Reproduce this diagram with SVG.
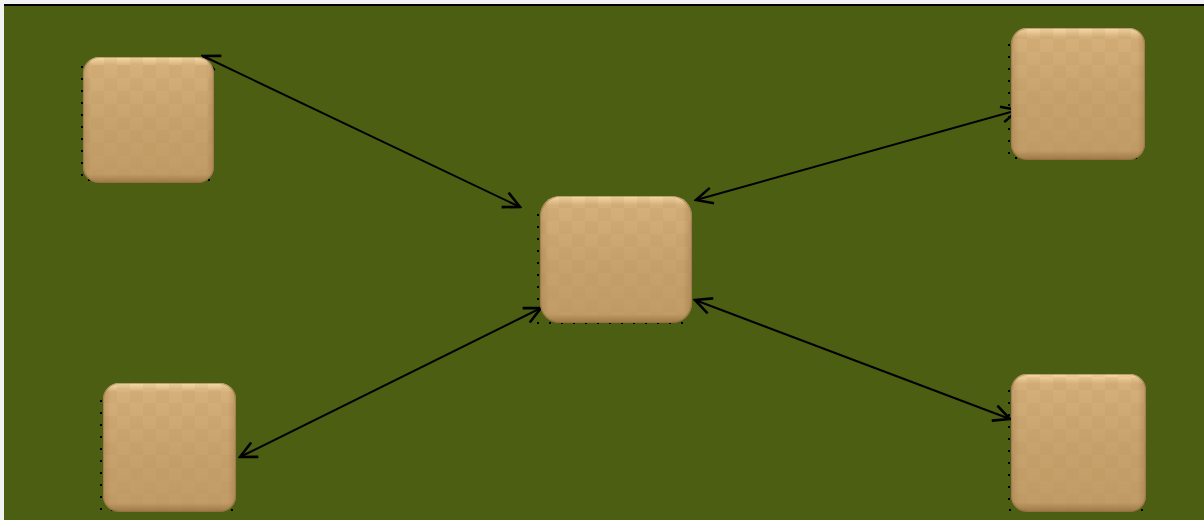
<svg xmlns="http://www.w3.org/2000/svg" width="1204" height="520" viewBox="0 0 1204 520">
  <defs>
    <style>
      .edge { fill: none; stroke: #000; stroke-width: 2; marker-start: url(#head); marker-end: url(#head); }
      .body { fill: url(#tan); }
      .tex { fill: url(#checker); }
      .shade { fill: url(#bevel); }
      .rim { fill: none; stroke: #8c6a3c; stroke-opacity: 0.5; stroke-width: 1.2; }
      .dots { fill: none; stroke: #000; stroke-width: 2; stroke-dasharray: 2 10; }
    </style>
    <marker id="head" viewBox="0 0 20 20" refX="18" refY="10" markerWidth="20" markerHeight="20" markerUnits="userSpaceOnUse" orient="auto-start-reverse">
      <path d="M1.5,2 L18,10 L1.5,18" fill="none" stroke="#000" stroke-width="2.6" stroke-linejoin="miter"/>
    </marker>
    <linearGradient id="tan" x1="0" y1="0" x2="0" y2="1">
      <stop offset="0" stop-color="#f6dba8"/>
      <stop offset="0.07" stop-color="#d6b07a"/>
      <stop offset="0.5" stop-color="#c9a36d"/>
      <stop offset="0.93" stop-color="#c29c66"/>
      <stop offset="1" stop-color="#9a7444"/>
    </linearGradient>
    <linearGradient id="bevel" x1="0" y1="0" x2="1" y2="0">
      <stop offset="0" stop-color="#7a5a30" stop-opacity="0.22"/>
      <stop offset="0.06" stop-color="#7a5a30" stop-opacity="0"/>
      <stop offset="0.94" stop-color="#7a5a30" stop-opacity="0"/>
      <stop offset="1" stop-color="#7a5a30" stop-opacity="0.28"/>
    </linearGradient>
    <pattern id="checker" width="26" height="26" patternUnits="userSpaceOnUse">
      <rect x="0" y="0" width="13" height="13" fill="#b08a56" fill-opacity="0.13"/>
      <rect x="13" y="13" width="13" height="13" fill="#b08a56" fill-opacity="0.13"/>
    </pattern>
  </defs>

  <!-- canvas -->
  <rect x="0" y="0" width="1204" height="520" fill="#f2f2f2"/>
  <rect x="4" y="6" width="1200" height="514" fill="#4b5e12"/>
  <line x1="4" y1="5" x2="1204" y2="5" stroke="#000" stroke-width="2"/>

  <!-- connectors -->
  <g id="connectors">
    <line class="edge" x1="203" y1="56" x2="520" y2="207"/>
    <line class="edge" x1="696" y1="200" x2="1018" y2="110"/>
    <line class="edge" x1="240" y1="457" x2="541" y2="308"/>
    <line class="edge" x1="695" y1="300" x2="1010" y2="419"/>
  </g>

  <!-- nodes -->
  <g id="node-top-left">
    <path class="dots" d="M82,66 V180 H212"/>
    <rect class="body" x="83" y="57" width="131" height="126" rx="16"/>
    <rect class="tex" x="83" y="57" width="131" height="126" rx="16"/>
    <rect class="shade" x="83" y="57" width="131" height="126" rx="16"/>
    <rect class="rim" x="83.5" y="57.5" width="130" height="125" rx="16"/>
  </g>
  <g id="node-center">
    <path class="dots" d="M538,214 V323 H690"/>
    <rect class="body" x="540" y="196" width="152" height="127" rx="20"/>
    <rect class="tex" x="540" y="196" width="152" height="127" rx="20"/>
    <rect class="shade" x="540" y="196" width="152" height="127" rx="20"/>
    <rect class="rim" x="540.5" y="196.5" width="151" height="126" rx="20"/>
  </g>
  <g id="node-top-right">
    <path class="dots" d="M1009,44 V158 H1143"/>
    <rect class="body" x="1011" y="28" width="134" height="132" rx="16"/>
    <rect class="tex" x="1011" y="28" width="134" height="132" rx="16"/>
    <rect class="shade" x="1011" y="28" width="134" height="132" rx="16"/>
    <rect class="rim" x="1011.5" y="28.5" width="133" height="131" rx="16"/>
  </g>
  <g id="node-bottom-left">
    <path class="dots" d="M101,400 V510 H234"/>
    <rect class="body" x="103" y="383" width="133" height="129" rx="16"/>
    <rect class="tex" x="103" y="383" width="133" height="129" rx="16"/>
    <rect class="shade" x="103" y="383" width="133" height="129" rx="16"/>
    <rect class="rim" x="103.5" y="383.5" width="132" height="128" rx="16"/>
  </g>
  <g id="node-bottom-right">
    <path class="dots" d="M1009,390 V510 H1144"/>
    <rect class="body" x="1011" y="374" width="135" height="138" rx="16"/>
    <rect class="tex" x="1011" y="374" width="135" height="138" rx="16"/>
    <rect class="shade" x="1011" y="374" width="135" height="138" rx="16"/>
    <rect class="rim" x="1011.5" y="374.5" width="134" height="137" rx="16"/>
  </g>
</svg>
